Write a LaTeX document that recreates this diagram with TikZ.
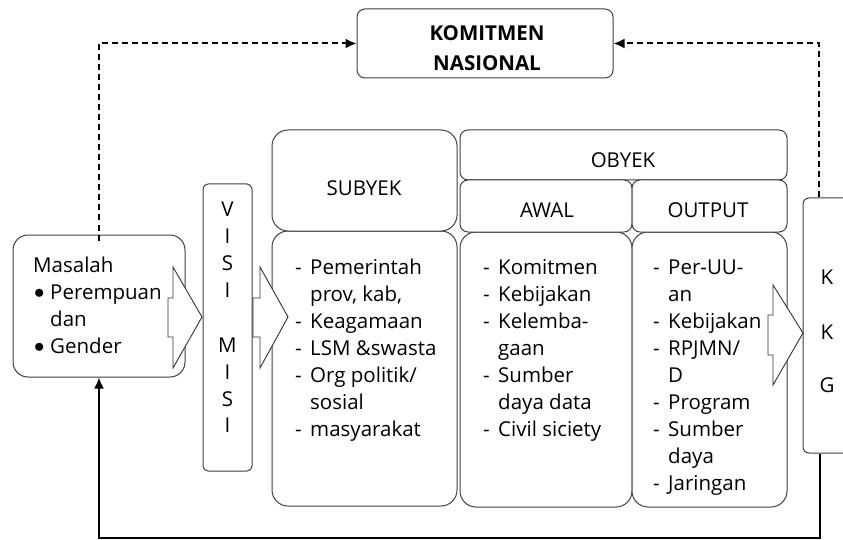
\documentclass[tikz,border=0pt]{standalone}
\usepackage{fontspec}
\setmainfont{Open Sans}
\usetikzlibrary{arrows.meta}
\newcommand\dashitem[1]{\makebox[15pt][l]{-}#1}
\newcommand\contline[1]{\hspace*{15pt}#1}
\newcommand\bulitem[1]{\makebox[17pt][l]{\hspace*{1pt}\raisebox{1pt}{$\bullet$}}#1}
\newcommand\bulcont[1]{\hspace*{17pt}#1}
\begin{document}
\begin{tikzpicture}[x=1pt,y=-1pt,
  bx/.style={draw=black!75, line width=1pt, fill=white, inner sep=0pt, rounded corners=#1},
  bx/.default=8pt,
  txt/.style={font=\fontsize{20.5}{27}\selectfont, inner sep=0pt, text=black},
  blockarrow/.style={draw=black!80, line width=0.9pt, fill=white},
  dasharrow/.style={line width=2pt, dash pattern=on 6pt off 4pt, -{Latex[length=11pt,width=10pt]}},
  solidarrow/.style={line width=2pt, -{Latex[length=11pt,width=10pt]}}]
\useasboundingbox (0,0) rectangle (843,540);
\clip (0,0) rectangle (843,540);

% boxes
\node[bx=8pt, minimum width=256pt, minimum height=69pt] (kom) at (485,43.5) {};
\node[bx=15pt, minimum width=172pt, minimum height=142pt] (mas) at (99,306) {};
\node[bx=5pt, minimum width=49pt, minimum height=287pt] (visi) at (227.5,327.5) {};
\node[bx=16pt, minimum width=185pt, minimum height=275pt] (subb) at (364.5,368.5) {};
\node[bx=16pt, minimum width=185pt, minimum height=101pt] (subh) at (364.5,180.5) {};
\node[bx=8pt, minimum width=327pt, minimum height=50pt] (obh) at (623.5,155) {};
\node[bx=16pt, minimum width=172pt, minimum height=275pt] (awb) at (546,369.5) {};
\node[bx=16pt, minimum width=155pt, minimum height=275pt] (outb) at (709.5,369.5) {};
\node[bx=8pt, minimum width=172pt, minimum height=52pt] (awh) at (546,206) {};
\node[bx=8pt, minimum width=155pt, minimum height=52pt] (outh) at (709.5,206) {};
\node[bx=6pt, minimum width=80pt, minimum height=255pt] (kkg) at (843,325.5) {};

% block arrows
\draw[blockarrow] (168,298) -- (173,298) -- (173,267) -- (202,317) -- (173,368) -- (173,337) -- (168,337) -- cycle;
\draw[blockarrow] (253,298) -- (260,298) -- (260,267) -- (288,317) -- (260,368) -- (260,337) -- (253,337) -- cycle;
\draw[blockarrow] (768,315) -- (773,315) -- (773,285) -- (803,333) -- (773,385) -- (773,355) -- (768,355) -- cycle;

% connectors
\draw[dasharrow] ([yshift=-6pt]mas.north) |- (kom.west);
\draw[dasharrow] ([xshift=16pt]kkg.north west) |- (kom.east);
\draw[solidarrow] ([xshift=17pt]kkg.south west) -- ++(0,84) -| (mas.south);

% texts
\node[txt, font=\fontsize{20.5}{30}\selectfont\bfseries, align=center] (komt) at (487,48) {KOMITMEN\\NASIONAL};
\node[txt] (subt) at (364,188) {SUBYEK};
\node[txt] (obt) at (623,160) {OBYEK};
\node[txt] (awt) at (547,210) {AWAL};
\node[txt] (outt) at (708,210) {OUTPUT};

\node[txt, anchor=base west] (mast) at (33,272) {\parbox[t]{150pt}{\raggedright\fontsize{20.5}{27}\selectfont
Masalah\\
\bulitem{Perempuan}\\
\bulcont{dan}\\
\bulitem{Gender}}};

\node[txt, anchor=base] (visit) at (227.5,217) {\parbox[t]{40pt}{\centering\fontsize{20.5}{27}\selectfont
V\\I\\S\\I\\\mbox{}\\M\\I\\S\\I}};

\node[txt, anchor=base west] (subl) at (295,274) {\parbox[t]{160pt}{\raggedright\fontsize{20.5}{27}\selectfont
\dashitem{Pemerintah}\\
\contline{prov, kab,}\\
\dashitem{Keagamaan}\\
\dashitem{LSM \&swasta}\\
\dashitem{Org politik/}\\
\contline{sosial}\\
\dashitem{masyarakat}}};

\node[txt, anchor=base west] (awl) at (483,274) {\parbox[t]{150pt}{\raggedright\fontsize{20.5}{27}\selectfont
\dashitem{Komitmen}\\
\dashitem{Kebijakan}\\
\dashitem{Kelemba-}\\
\contline{gaan}\\
\dashitem{Sumber}\\
\contline{daya data}\\
\dashitem{Civil siciety}}};

\node[txt, anchor=base west] (outl) at (653,274) {\parbox[t]{150pt}{\raggedright\fontsize{20.5}{27}\selectfont
\dashitem{Per-UU-}\\
\contline{an}\\
\dashitem{Kebijakan}\\
\dashitem{RPJMN/}\\
\contline{D}\\
\dashitem{Program}\\
\dashitem{Sumber}\\
\contline{daya}\\
\dashitem{Jaringan}}};

\node[txt, anchor=base] (k1) at (827,284) {K};
\node[txt, anchor=base] (k2) at (827,339) {K};
\node[txt, anchor=base] (g1) at (827,392) {G};
\end{tikzpicture}
\end{document}
